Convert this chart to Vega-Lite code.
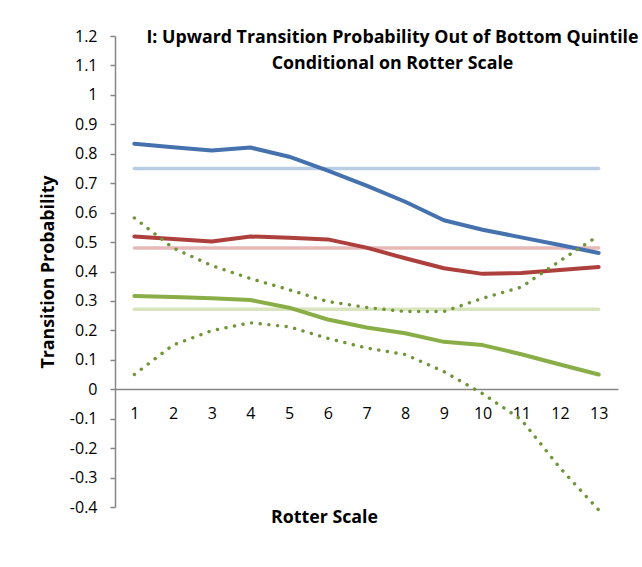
{
  "$schema": "https://vega.github.io/schema/vega-lite/v6.json",
  "width": 503,
  "height": 471,
  "autosize": {"type": "none"},
  "padding": {"left": 115, "top": 36, "right": 24, "bottom": 60},
  "background": "white",
  "title": {
    "text": ["I: Upward Transition Probability Out of Bottom Quintile", "Conditional on Rotter Scale"],
    "anchor": "middle",
    "frame": "group",
    "font": "Open Sans",
    "fontSize": 17.8,
    "fontWeight": "bold",
    "color": "black",
    "lineHeight": 26,
    "offset": 0,
    "dx": 26,
    "dy": 45
  },
  "data": {
    "values": [
      {"rotter": 1, "series": "Blue", "p": 0.834},
      {"rotter": 2, "series": "Blue", "p": 0.822},
      {"rotter": 3, "series": "Blue", "p": 0.811},
      {"rotter": 4, "series": "Blue", "p": 0.821},
      {"rotter": 5, "series": "Blue", "p": 0.79},
      {"rotter": 6, "series": "Blue", "p": 0.743},
      {"rotter": 7, "series": "Blue", "p": 0.692},
      {"rotter": 8, "series": "Blue", "p": 0.637},
      {"rotter": 9, "series": "Blue", "p": 0.574},
      {"rotter": 10, "series": "Blue", "p": 0.542},
      {"rotter": 11, "series": "Blue", "p": 0.516},
      {"rotter": 12, "series": "Blue", "p": 0.49},
      {"rotter": 13, "series": "Blue", "p": 0.463},
      {"rotter": 1, "series": "Red", "p": 0.519},
      {"rotter": 2, "series": "Red", "p": 0.51},
      {"rotter": 3, "series": "Red", "p": 0.502},
      {"rotter": 4, "series": "Red", "p": 0.519},
      {"rotter": 5, "series": "Red", "p": 0.515},
      {"rotter": 6, "series": "Red", "p": 0.509},
      {"rotter": 7, "series": "Red", "p": 0.481},
      {"rotter": 8, "series": "Red", "p": 0.445},
      {"rotter": 9, "series": "Red", "p": 0.411},
      {"rotter": 10, "series": "Red", "p": 0.392},
      {"rotter": 11, "series": "Red", "p": 0.395},
      {"rotter": 12, "series": "Red", "p": 0.405},
      {"rotter": 13, "series": "Red", "p": 0.415},
      {"rotter": 1, "series": "Green", "p": 0.317},
      {"rotter": 2, "series": "Green", "p": 0.313},
      {"rotter": 3, "series": "Green", "p": 0.309},
      {"rotter": 4, "series": "Green", "p": 0.303},
      {"rotter": 5, "series": "Green", "p": 0.277},
      {"rotter": 6, "series": "Green", "p": 0.237},
      {"rotter": 7, "series": "Green", "p": 0.21},
      {"rotter": 8, "series": "Green", "p": 0.19},
      {"rotter": 9, "series": "Green", "p": 0.161},
      {"rotter": 10, "series": "Green", "p": 0.15},
      {"rotter": 11, "series": "Green", "p": 0.119},
      {"rotter": 12, "series": "Green", "p": 0.084},
      {"rotter": 13, "series": "Green", "p": 0.05},
      {"rotter": 1, "series": "Upper", "p": 0.582},
      {"rotter": 2, "series": "Upper", "p": 0.48},
      {"rotter": 3, "series": "Upper", "p": 0.42},
      {"rotter": 4, "series": "Upper", "p": 0.376},
      {"rotter": 5, "series": "Upper", "p": 0.338},
      {"rotter": 6, "series": "Upper", "p": 0.298},
      {"rotter": 7, "series": "Upper", "p": 0.278},
      {"rotter": 8, "series": "Upper", "p": 0.264},
      {"rotter": 9, "series": "Upper", "p": 0.264},
      {"rotter": 10, "series": "Upper", "p": 0.309},
      {"rotter": 11, "series": "Upper", "p": 0.347},
      {"rotter": 12, "series": "Upper", "p": 0.436},
      {"rotter": 13, "series": "Upper", "p": 0.522},
      {"rotter": 1, "series": "Lower", "p": 0.05},
      {"rotter": 2, "series": "Lower", "p": 0.15},
      {"rotter": 3, "series": "Lower", "p": 0.199},
      {"rotter": 4, "series": "Lower", "p": 0.226},
      {"rotter": 5, "series": "Lower", "p": 0.212},
      {"rotter": 6, "series": "Lower", "p": 0.173},
      {"rotter": 7, "series": "Lower", "p": 0.14},
      {"rotter": 8, "series": "Lower", "p": 0.118},
      {"rotter": 9, "series": "Lower", "p": 0.06},
      {"rotter": 10, "series": "Lower", "p": -0.015},
      {"rotter": 11, "series": "Lower", "p": -0.103},
      {"rotter": 12, "series": "Lower", "p": -0.267},
      {"rotter": 13, "series": "Lower", "p": -0.41},
      {"rotter": 1, "series": "Blue mean", "p": 0.75},
      {"rotter": 13, "series": "Blue mean", "p": 0.75},
      {"rotter": 1, "series": "Red mean", "p": 0.48},
      {"rotter": 13, "series": "Red mean", "p": 0.48},
      {"rotter": 1, "series": "Green mean", "p": 0.272},
      {"rotter": 13, "series": "Green mean", "p": 0.272}
    ]
  },
  "encoding": {
    "x": {
      "field": "rotter",
      "type": "ordinal",
      "scale": {"type": "point", "padding": 0.5},
      "axis": {
        "orient": "bottom",
        "offset": -118,
        "ticks": false,
        "tickSize": 0,
        "labelAngle": 0,
        "labelFont": "Open Sans",
        "labelFontSize": 16,
        "labelColor": "black",
        "labelBaseline": "middle",
        "labelPadding": 24,
        "domainColor": "#868686",
        "domainWidth": 1.5,
        "grid": false,
        "title": "Rotter Scale",
        "titleFont": "Open Sans",
        "titleFontSize": 17.8,
        "titleFontWeight": "bold",
        "titleColor": "black",
        "titleX": 209,
        "titleY": 128,
        "titleAlign": "center",
        "titleBaseline": "middle"
      }
    },
    "y": {
      "field": "p",
      "type": "quantitative",
      "scale": {"domain": [-0.4, 1.2], "nice": false, "zero": false},
      "axis": {
        "values": [-0.4, -0.3, -0.2, -0.1, 0, 0.1, 0.2, 0.3, 0.4, 0.5, 0.6, 0.7, 0.8, 0.9, 1, 1.1, 1.2],
        "labelExpr": "replace(format(datum.value, '.1~f'), '\u2212', '-')",
        "tickSize": 5,
        "tickColor": "#868686",
        "tickWidth": 1.5,
        "domainColor": "#868686",
        "domainWidth": 1.5,
        "labelFont": "Open Sans",
        "labelFontSize": 16,
        "labelColor": "black",
        "labelPadding": 13,
        "grid": false,
        "title": "Transition Probability",
        "titleFont": "Open Sans",
        "titleFontSize": 17.8,
        "titleFontWeight": "bold",
        "titleColor": "black",
        "titleX": -67,
        "titleY": 235.5,
        "titleAlign": "center",
        "titleBaseline": "middle"
      }
    },
    "color": {
      "field": "series",
      "type": "nominal",
      "legend": null,
      "scale": {
        "domain": ["Blue mean", "Red mean", "Green mean", "Blue", "Red", "Green", "Upper", "Lower"],
        "range": ["#B9CDE5", "#E6B9B8", "#D7E4BD", "#4572AE", "#AD403D", "#8AAE47", "#6F9538", "#6F9538"]
      }
    }
  },
  "layer": [
    {
      "transform": [{"filter": "indexof(['Blue mean','Red mean','Green mean'], datum.series) >= 0"}],
      "mark": {"type": "line", "strokeWidth": 3.5, "strokeCap": "round"},
      "encoding": {"detail": {"field": "series"}}
    },
    {
      "transform": [{"filter": "indexof(['Blue','Red','Green'], datum.series) >= 0"}],
      "mark": {"type": "line", "strokeWidth": 4, "strokeCap": "round", "strokeJoin": "round"},
      "encoding": {"detail": {"field": "series"}}
    },
    {
      "transform": [{"filter": "indexof(['Upper','Lower'], datum.series) >= 0"}],
      "mark": {"type": "line", "strokeWidth": 3.4, "strokeCap": "round", "strokeJoin": "round", "strokeDash": [0.1, 8.6]},
      "encoding": {"detail": {"field": "series"}}
    }
  ],
  "config": {
    "view": {"stroke": null}
  }
}
